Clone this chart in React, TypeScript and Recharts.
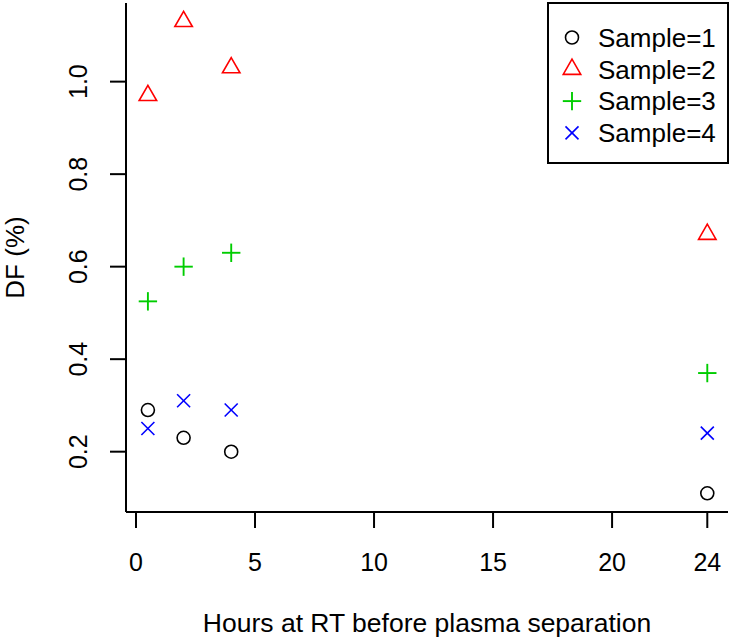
import React from 'react';
import { ScatterChart, Scatter, XAxis, YAxis, Legend } from 'recharts';

// DF (%) per prøve mot timer ved romtemperatur før plasmaseparasjon.
const hours = [0.5, 2, 4, 24];
const sample1 = [0.29, 0.23, 0.2, 0.11];
const sample2 = [0.97, 1.13, 1.03, 0.67];
const sample3 = [0.525, 0.6, 0.63, 0.37];
const sample4 = [0.25, 0.31, 0.29, 0.24];

const xTicks = [0, 5, 10, 15, 20, 24];
const yTicks = [0.2, 0.4, 0.6, 0.8, 1.0];
const xDomain = [-0.42, 24.87];
const yDomain = [0.0696, 1.17];

type Kind = 'circle' | 'triangle' | 'plus' | 'cross';

const series: { name: string; values: number[]; color: string; kind: Kind }[] = [
  { name: 'Sample=1', values: sample1, color: '#000000', kind: 'circle' },
  { name: 'Sample=2', values: sample2, color: '#FF0000', kind: 'triangle' },
  { name: 'Sample=3', values: sample3, color: '#00CD00', kind: 'plus' },
  { name: 'Sample=4', values: sample4, color: '#0000FF', kind: 'cross' },
];

const FONT = '"Liberation Sans", Arial, sans-serif';
const R = 6.5; // R-style symbolstørrelse

const Marker = ({ cx, cy, kind, color }: { cx: number; cy: number; kind: Kind; color: string }) => {
  const sw = 1.6;
  if (kind === 'circle') {
    return <circle cx={cx} cy={cy} r={R} fill="none" stroke={color} strokeWidth={sw} />;
  }
  if (kind === 'triangle') {
    const r = 1.5551 * R;
    const xc = 1.3468 * R;
    const yc = 0.7776 * R;
    return (
      <polygon
        points={`${cx},${cy - r} ${cx + xc},${cy + yc} ${cx - xc},${cy + yc}`}
        fill="none"
        stroke={color}
        strokeWidth={sw}
      />
    );
  }
  if (kind === 'plus') {
    const h = Math.SQRT2 * R;
    return (
      <g stroke={color} strokeWidth={sw + 0.3}>
        <line x1={cx - h} y1={cy} x2={cx + h} y2={cy} />
        <line x1={cx} y1={cy - h} x2={cx} y2={cy + h} />
      </g>
    );
  }
  return (
    <g stroke={color} strokeWidth={sw}>
      <line x1={cx - R} y1={cy - R} x2={cx + R} y2={cy + R} />
      <line x1={cx - R} y1={cy + R} x2={cx + R} y2={cy - R} />
    </g>
  );
};

const XTick = ({ x, y, payload }: any) => (
  <text x={x} y={y + 42.5} textAnchor="middle" fontSize={25} fontFamily={FONT} fill="#000">
    {payload.value}
  </text>
);

const YTick = ({ x, y, payload }: any) => {
  const tx = x - 23;
  return (
    <text x={tx} y={y} transform={`rotate(-90 ${tx} ${y})`} textAnchor="middle" fontSize={25} fontFamily={FONT} fill="#000">
      {Number(payload.value).toFixed(1)}
    </text>
  );
};

const renderLegend = () => (
  <svg width={183} height={163} style={{ display: 'block' }}>
    <rect x={1} y={1} width={180} height={160} fill="#fff" stroke="#000" strokeWidth={2} />
    {series.map((s, i) => {
      const cy = 35.5 + i * 31.8;
      return (
        <g key={s.name}>
          <Marker cx={25} cy={cy} kind={s.kind} color={s.color} />
          <text x={51} y={cy + 9.3} fontSize={26} fontFamily={FONT} fill="#000">
            {s.name}
          </text>
        </g>
      );
    })}
  </svg>
);

export default function App() {
  return (
    <div style={{ position: 'absolute', left: 0, top: 0, width: 734, height: 642, background: '#fff' }}>
      <ScatterChart width={734} height={642} margin={{ top: 3, right: 6, bottom: 0, left: 0 }}>
        <XAxis
          type="number"
          dataKey="x"
          domain={xDomain}
          ticks={xTicks}
          allowDataOverflow
          height={130}
          tickSize={16}
          tickMargin={0}
          tick={<XTick />}
          axisLine={{ stroke: '#000', strokeWidth: 2 }}
          tickLine={{ stroke: '#000', strokeWidth: 2 }}
          label={{
            content: ({ viewBox }: any) => (
              <text
                x={viewBox.x + viewBox.width / 2}
                y={viewBox.y + viewBox.height - 10}
                textAnchor="middle"
                fontSize={26.5}
                fontFamily={FONT}
                fill="#000"
              >
                Hours at RT before plasma separation
              </text>
            ),
          }}
        />
        <XAxis xAxisId="top" orientation="top" type="number" domain={xDomain} allowDataOverflow height={0} tick={false} tickLine={false} axisLine={{ stroke: '#000', strokeWidth: 2 }} />
        <YAxis
          type="number"
          dataKey="y"
          domain={yDomain}
          ticks={yTicks}
          allowDataOverflow
          width={126}
          tickSize={16}
          tickMargin={0}
          tick={<YTick />}
          axisLine={{ stroke: '#000', strokeWidth: 2 }}
          tickLine={{ stroke: '#000', strokeWidth: 2 }}
          label={{
            content: ({ viewBox }: any) => {
              const lx = viewBox.x + 24;
              const ly = viewBox.y + viewBox.height / 2;
              return (
                <text x={lx} y={ly} transform={`rotate(-90 ${lx} ${ly})`} textAnchor="middle" fontSize={26} fontFamily={FONT} fill="#000">
                  DF (%)
                </text>
              );
            },
          }}
        />
        <YAxis yAxisId="right" orientation="right" type="number" domain={yDomain} allowDataOverflow width={0} tick={false} tickLine={false} axisLine={{ stroke: '#000', strokeWidth: 2 }} />
        {series.map((s) => (
          <Scatter
            key={s.name}
            name={s.name}
            data={hours.map((h, i) => ({ x: h, y: s.values[i] }))}
            isAnimationActive={false}
            shape={(p: any) => <Marker cx={p.cx} cy={p.cy} kind={s.kind} color={s.color} />}
          />
        ))}
        <Legend
          layout="vertical"
          align="center"
          verticalAlign="middle"
          content={renderLegend}
          wrapperStyle={{ position: 'absolute', left: 547, top: 2, width: 183, height: 163 }}
        />
      </ScatterChart>
    </div>
  );
}
